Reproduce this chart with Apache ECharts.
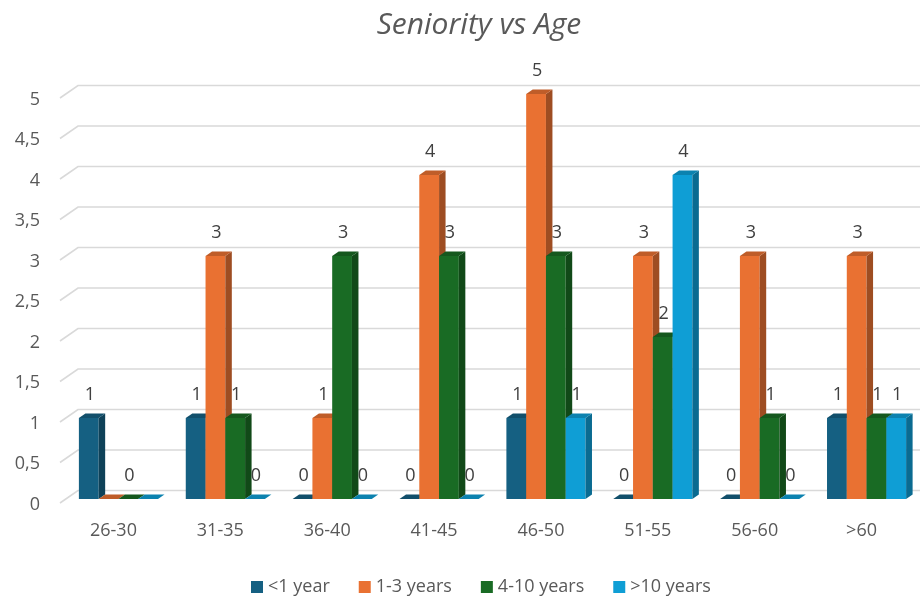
<!DOCTYPE html>
<html>
<head>
<meta charset="utf-8">
<script src="https://cdn.jsdelivr.net/npm/echarts@6/dist/echarts.min.js"></script>
<style>html,body{margin:0;padding:0;background:#fff}#chart{width:920px;height:597px}</style>
</head>
<body>
<div id="chart"></div>
<script>
const categories = ['26-30', '31-35', '36-40', '41-45', '46-50', '51-55', '56-60', '>60'];
const seriesNames = ['<1 year', '1-3 years', '4-10 years', '>10 years'];
const lessThan1Year = [1, 1, 0, 0, 1, 0, 0, 1];
const oneToThreeYears = [null, 3, 1, 4, 5, 3, 3, 3];
const fourToTenYears = [0, 1, 3, 3, 3, 2, 1, 1];
const moreThan10Years = [null, 0, 0, 0, 1, 4, 0, 1];
const yTicks = [0, 0.5, 1, 1.5, 2, 2.5, 3, 3.5, 4, 4.5, 5];

const seriesValues = [lessThan1Year, oneToThreeYears, fourToTenYears, moreThan10Years];
const colors = ['#156082', '#E97132', '#196B24', '#0F9ED5'];
const FONT = 'Open Sans';
const TXT = '#595959';

function shade(hex, f) {
  const n = parseInt(hex.slice(1), 16);
  const r = Math.round(((n >> 16) & 255) * f), g = Math.round(((n >> 8) & 255) * f), b = Math.round((n & 255) * f);
  return 'rgb(' + r + ',' + g + ',' + b + ')';
}

function barRenderer(s) {
  const vals = seriesValues[s];
  return function (params, api) {
    const ci = api.value(0), v = api.value(1);
    const base = api.coord([ci, 0]);
    const top = api.coord([ci, v]);
    const band = api.size([1, 0])[0];
    const bw = band * 0.185;
    const x0 = base[0] - 2 * bw + s * bw;
    const dx = 6.5, dy = -4.5;
    const c = colors[s];
    const children = [
      { type: 'rect', shape: { x: x0, y: top[1], width: bw, height: base[1] - top[1] }, style: { fill: c } },
      { type: 'polygon', shape: { points: [[x0 + bw, top[1]], [x0 + bw + dx, top[1] + dy], [x0 + bw + dx, base[1] + dy], [x0 + bw, base[1]]] }, style: { fill: shade(c, 0.68) } },
      { type: 'polygon', shape: { points: [[x0, top[1]], [x0 + dx, top[1] + dy], [x0 + bw + dx, top[1] + dy], [x0 + bw, top[1]]] }, style: { fill: shade(c, 0.82) } }
    ];
    if (vals[params.dataIndex] !== null) {
      children.push({ type: 'text', style: { text: String(vals[params.dataIndex]), x: x0 + bw / 2 + 1, y: top[1] - 23, align: 'center', verticalAlign: 'middle', fontSize: 18, fontFamily: FONT, fill: '#404040' } });
    }
    return { type: 'group', children: children };
  };
}

const gridSeries = {
  type: 'custom',
  coordinateSystem: 'cartesian2d',
  silent: true,
  z: 1,
  data: yTicks.map(t => [0, t]),
  encode: { x: 0, y: 1 },
  renderItem: function (params, api) {
    const cs = params.coordSys;
    const y = api.coord([0, api.value(1)])[1];
    return {
      type: 'polyline',
      shape: { points: [[cs.x - 5, y + 4], [cs.x + 13, y - 8.5], [cs.x + cs.width, y - 8.5]] },
      style: { stroke: '#d9d9d9', lineWidth: 1.6, fill: null }
    };
  }
};

const barSeries = seriesNames.map((name, s) => ({
  name: name,
  type: 'custom',
  coordinateSystem: 'cartesian2d',
  z: 2 + s,
  itemStyle: { color: colors[s] },
  encode: { x: 0, y: 1 },
  data: seriesValues[s].map((v, i) => [i, v === null ? 0 : v]),
  renderItem: barRenderer(s)
}));

const chart = echarts.init(document.getElementById('chart'), null, { renderer: 'canvas' });
chart.setOption({
  animation: false,
  backgroundColor: '#ffffff',
  title: {
    text: 'Seniority vs Age',
    left: 474, top: 5, textAlign: 'center',
    textStyle: { fontFamily: FONT, fontSize: 30, fontStyle: 'italic', fontWeight: 'normal', color: TXT }
  },
  legend: {
    data: seriesNames,
    top: 573, left: 246,
    icon: 'rect', itemWidth: 12, itemHeight: 12, itemGap: 29,
    textStyle: { fontFamily: FONT, fontSize: 18, color: TXT }
  },
  grid: { left: 65, right: 0, top: 94, bottom: 98, containLabel: false },
  xAxis: {
    type: 'category', data: categories,
    axisLine: { show: false }, axisTick: { show: false }, splitLine: { show: false },
    axisLabel: {
      margin: 23, interval: 0,
      formatter: v => '{a|' + v + '}',
      rich: { a: { padding: [0, 10, 0, 0], fontFamily: FONT, fontSize: 18, color: TXT } }
    }
  },
  yAxis: {
    type: 'value', min: 0, max: 5, interval: 0.5,
    axisLine: { show: false }, axisTick: { show: false }, splitLine: { show: false },
    axisLabel: {
      margin: 25,
      formatter: v => '{a|' + String(v).replace('.', ',') + '}',
      rich: { a: { padding: [11, 0, 0, 0], fontFamily: FONT, fontSize: 18, color: TXT } }
    }
  },
  series: [gridSeries].concat(barSeries)
});
</script>
</body>
</html>
